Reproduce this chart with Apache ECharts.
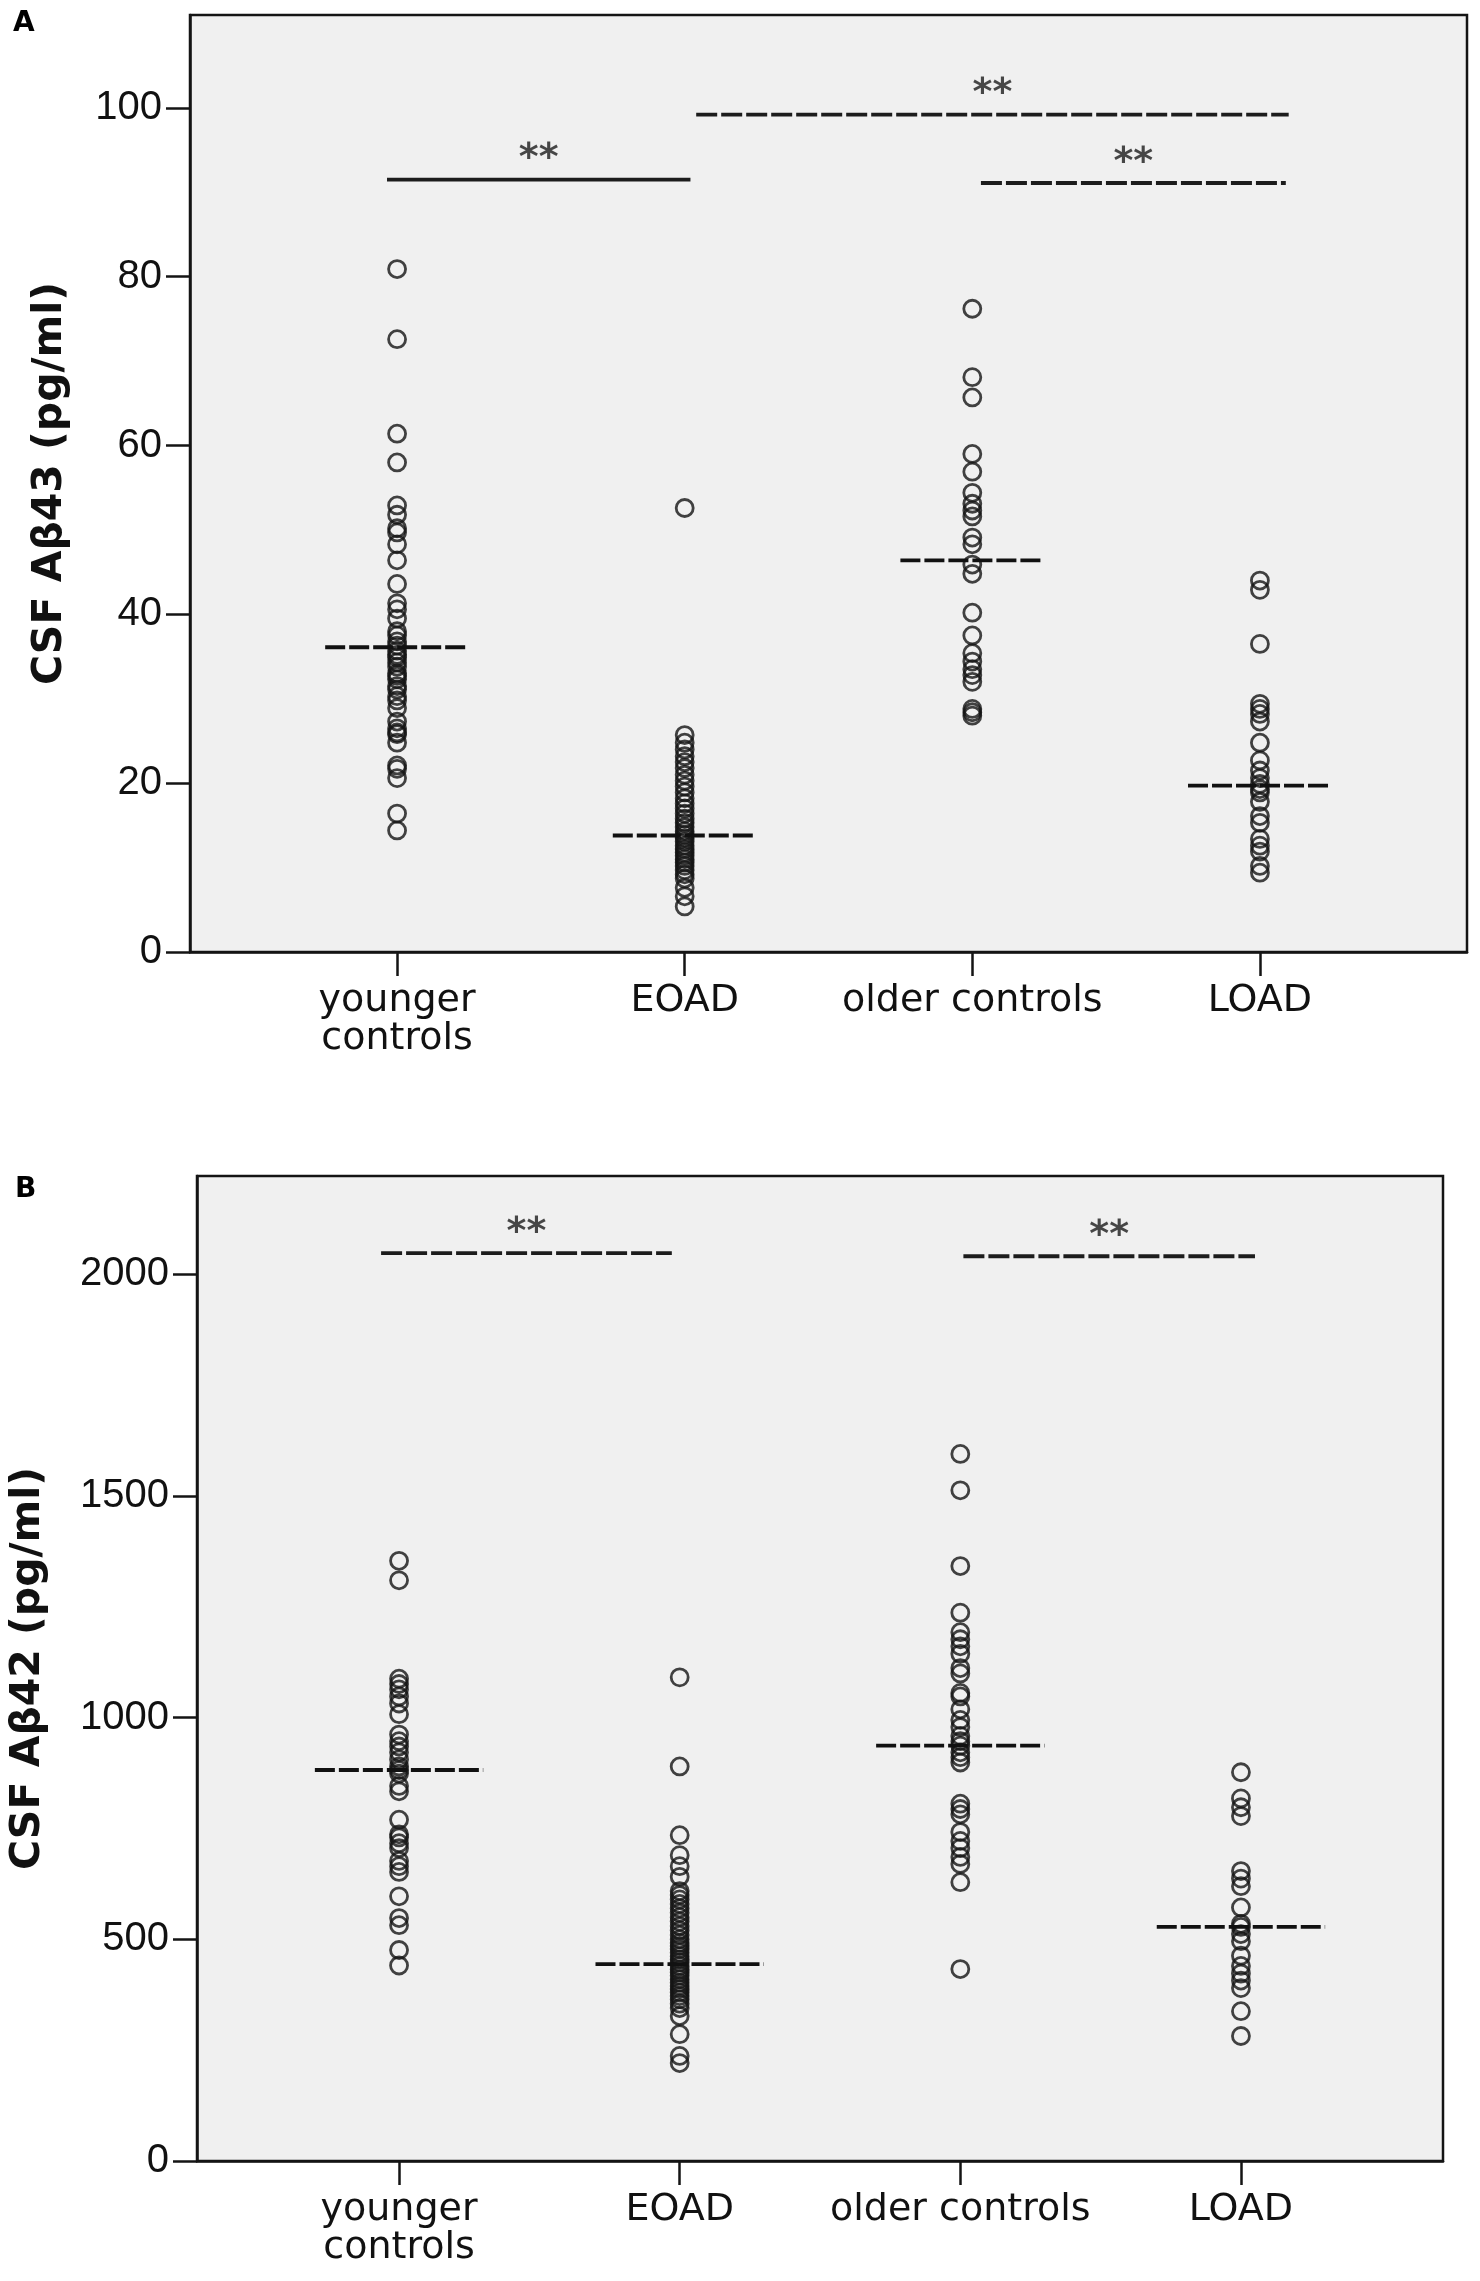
<!DOCTYPE html>
<html>
<head>
<meta charset="utf-8">
<title>CSF Aβ43 and Aβ42 by group</title>
<script src="https://cdn.jsdelivr.net/npm/echarts@6/dist/echarts.min.js"></script>
<style>
  html, body { margin: 0; padding: 0; background: #fff; }
  #chart { width: 1480px; height: 2281px; }
</style>
</head>
<body>
<div id="chart"></div>
<script>
// groups along the x axis (positions 0..3)
const groups = ['younger\ncontrols', 'EOAD', 'older controls', 'LOAD'];
const groupTicks = [0, 1, 2, 3];

// Panel A: CSF Aβ43 (pg/ml)
const ab43Younger = [80.9, 72.6, 61.4, 58.0, 52.9, 51.8, 50.2, 49.7, 48.3, 46.4, 43.6, 41.3, 40.6,
  39.5, 38.0, 37.5, 36.8, 36.3, 35.7, 35.2, 34.9, 34.3, 33.8, 33.0, 32.7, 32.3, 31.5, 31.1, 30.3,
  29.8, 28.9, 27.3, 26.5, 26.0, 25.8, 24.8, 22.1, 21.7, 20.6, 16.4, 14.4];
const ab43Eoad = [52.6, 25.7, 24.8, 24.0, 23.2, 22.5, 21.8, 21.0, 20.3, 19.6, 18.9, 18.2, 17.6,
  17.0, 16.4, 15.8, 15.3, 14.8, 14.3, 13.9, 13.5, 13.1, 12.6, 12.2, 11.8, 11.4, 11.0, 10.6, 10.2,
  9.7, 9.2, 8.7, 7.6, 6.6, 5.4];
const ab43Older = [76.2, 68.1, 65.7, 59.0, 56.9, 54.4, 53.1, 52.3, 51.6, 49.1, 48.3, 45.9, 44.8,
  40.2, 37.5, 35.4, 34.4, 33.5, 32.8, 32.0, 28.8, 28.4, 28.0];
const ab43Load = [44.0, 42.9, 36.5, 29.4, 28.8, 28.2, 27.3, 24.8, 22.7, 21.5, 20.6, 19.9, 19.3,
  18.9, 17.8, 16.1, 15.3, 13.4, 12.6, 11.9, 10.2, 9.4];
const ab43Medians = [36.1, 13.8, 46.4, 19.7];
const ab43Ticks = [0, 20, 40, 60, 80, 100];
// significance bars: [from, to, y, dashed]
const ab43Sig = [
  [-0.035, 1.02, 91.5, false],
  [1.04, 3.1, 99.2, true],
  [2.03, 3.09, 91.1, true]
];

// Panel B: CSF Aβ42 (pg/ml)
const ab42Younger = [1354, 1310, 1088, 1076, 1064, 1048, 1032, 1008, 962, 947, 935, 922, 906, 890,
  882, 874, 846, 834, 770, 737, 730, 717, 706, 677, 665, 652, 597, 548, 532, 476, 441];
const ab42Eoad = [1091, 890, 735, 690, 665, 641, 609, 600, 590, 580, 570, 560, 550, 540, 530, 520,
  510, 500, 492, 485, 478, 470, 462, 455, 448, 440, 432, 425, 418, 410, 402, 395, 388, 380, 372,
  365, 355, 345, 327, 286, 237, 221];
const ab42Older = [1595, 1513, 1342, 1237, 1193, 1177, 1161, 1144, 1112, 1100, 1056, 1048, 1019,
  995, 979, 959, 947, 937, 922, 911, 899, 806, 794, 782, 742, 722, 706, 686, 670, 629, 433];
const ab42Load = [877, 818, 798, 778, 654, 637, 620, 572, 535, 528, 512, 496, 463, 440, 423, 407,
  390, 338, 282];
const ab42Medians = [882, 444, 937, 528];
const ab42Ticks = [0, 500, 1000, 1500, 2000];
const ab42Sig = [
  [-0.064, 0.972, 2048, true],
  [2.011, 3.05, 2041, true]
];

const ink = '#141414';
const labelFont = 'DejaVu Sans';

function pointSeries(values, group, idx) {
  return {
    type: 'scatter',
    xAxisIndex: idx,
    yAxisIndex: idx,
    data: values.map(v => [group, v]),
    symbol: 'circle',
    symbolSize: 17,
    itemStyle: { color: 'rgba(0,0,0,0)', borderColor: ink, borderWidth: 2.8 },
    silent: true,
    z: 3
  };
}

function medianSeries(medians, halfWidth, idx) {
  return medians.map((m, i) => ({
    type: 'line',
    xAxisIndex: idx,
    yAxisIndex: idx,
    data: [[i - halfWidth, m], [i + halfWidth, m]],
    symbol: 'none',
    lineStyle: { color: '#111', width: 3.8, type: [20, 4] },
    silent: true,
    z: 4
  }));
}

function sigSeries(bars, idx) {
  const out = bars.map(([from, to, y, dashed]) => ({
    type: 'line',
    xAxisIndex: idx,
    yAxisIndex: idx,
    data: [[from, y], [to, y]],
    symbol: 'none',
    lineStyle: { color: '#1c1c1c', width: 3.8, type: dashed ? [21, 4] : 'solid' },
    silent: true,
    z: 4
  }));
  // the "**" above each bar
  out.push({
    type: 'scatter',
    xAxisIndex: idx,
    yAxisIndex: idx,
    data: bars.map(b => [(b[0] + b[1]) / 2, b[2]]),
    symbolSize: 1,
    itemStyle: { color: 'rgba(0,0,0,0)' },
    label: {
      show: true,
      formatter: '**',
      position: 'inside',
      offset: [0, -20],
      fontFamily: labelFont,
      fontWeight: 'bold',
      fontSize: 38,
      color: '#1c1c1c'
    },
    silent: true,
    z: 5
  });
  return out;
}

function xAxisFor(idx) {
  return {
    gridIndex: idx,
    type: 'value',
    min: -0.72,
    max: 3.72,
    axisLine: { show: true, onZero: false, lineStyle: { color: ink, width: 2.5 } },
    axisTick: { show: true, customValues: groupTicks, length: 24, lineStyle: { color: ink, width: 2.5 } },
    axisLabel: {
      customValues: groupTicks,
      formatter: v => groups[v] || '',
      margin: 30,
      fontFamily: labelFont,
      fontSize: 38,
      lineHeight: 38,
      color: '#111'
    },
    splitLine: { show: false }
  };
}

function yAxisFor(idx, max, ticks, name, gap) {
  return {
    gridIndex: idx,
    type: 'value',
    min: 0,
    max: max,
    name: name,
    nameLocation: 'middle',
    nameRotate: 90,
    nameGap: gap,
    nameTextStyle: { fontFamily: labelFont, fontWeight: 'bold', fontSize: 41, color: '#111' },
    axisLine: { show: true, onZero: false, lineStyle: { color: ink, width: 2.5 } },
    axisTick: { show: true, customValues: ticks, length: 24, lineStyle: { color: ink, width: 2.5 } },
    axisLabel: {
      customValues: ticks,
      formatter: v => String(v),
      margin: 28,
      fontFamily: 'Liberation Sans',
      fontSize: 40,
      color: '#111'
    },
    splitLine: { show: false }
  };
}

const gridStyle = { show: true, backgroundColor: '#f0f0f0', borderColor: ink, borderWidth: 2.5 };

const chart = echarts.init(document.getElementById('chart'), null, { renderer: 'canvas' });

chart.setOption({
  backgroundColor: '#fff',
  animation: false,
  grid: [
    { ...gridStyle, left: 190, top: 15, right: 13, bottom: 1329 },
    { ...gridStyle, left: 190, top: 1176, right: 37, bottom: 120 }
  ],
  xAxis: [xAxisFor(0), xAxisFor(1)],
  yAxis: [
    yAxisFor(0, 111, ab43Ticks, 'CSF Aβ43 (pg/ml)', 119),
    yAxisFor(1, 2222, ab42Ticks, 'CSF Aβ42 (pg/ml)', 148)
  ],
  graphic: [
    { type: 'text', left: 13, top: 10, style: { text: 'A', font: 'bold 28px "DejaVu Sans"', fill: '#000' } },
    { type: 'text', left: 15, top: 1176, style: { text: 'B', font: 'bold 28px "DejaVu Sans"', fill: '#000' } }
  ],
  series: [
    pointSeries(ab43Younger, 0, 0),
    pointSeries(ab43Eoad, 1, 0),
    pointSeries(ab43Older, 2, 0),
    pointSeries(ab43Load, 3, 0),
    ...medianSeries(ab43Medians, 0.25, 0),
    ...sigSeries(ab43Sig, 0),
    pointSeries(ab42Younger, 0, 1),
    pointSeries(ab42Eoad, 1, 1),
    pointSeries(ab42Older, 2, 1),
    pointSeries(ab42Load, 3, 1),
    ...medianSeries(ab42Medians, 0.3, 1),
    ...sigSeries(ab42Sig, 1)
  ]
});

window.addEventListener('resize', () => chart.resize());
</script>
</body>
</html>
